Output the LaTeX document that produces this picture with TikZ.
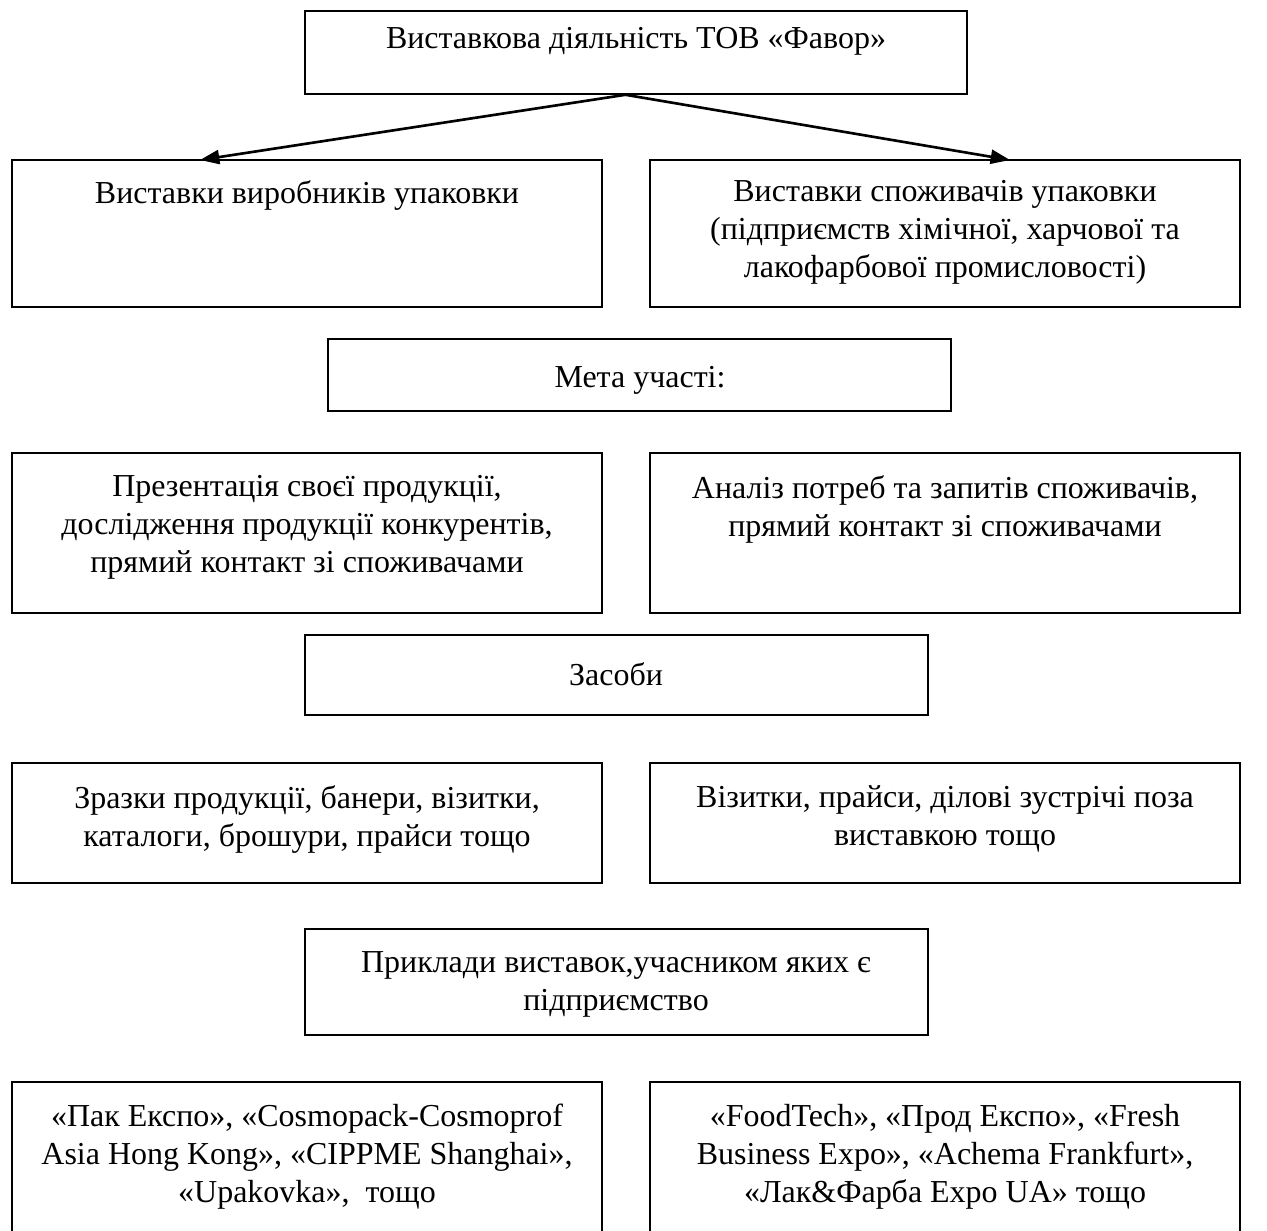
\documentclass[tikz,border=0pt]{standalone}
\usepackage{fontspec}
\setmainfont{Liberation Serif}
\usetikzlibrary{arrows.meta,fit}

\begin{document}
\begin{tikzpicture}[x=0.02cm, y=-0.02cm,
    box/.style={draw, line width=0.9pt, inner sep=0pt},
    txt/.style={anchor=north, align=center, inner sep=0pt, font=\fontsize{18.2}{21.5}\selectfont},
    arr/.style={line width=1.5pt, -{Triangle[length=11pt, width=8pt]}}]
  \useasboundingbox (0,0) rectangle (1267,1230);
  \clip (0,0) rectangle (1267,1230);
  % rows of boxes
  \node[box, fit={(305,11) (967,94)}] (top) {};
  \node[box, fit={(12,160) (602,307)}] (prodL) {};
  \node[box, fit={(650,160) (1240,307)}] (prodR) {};
  \node[box, fit={(328,339) (951,411)}] (goal) {};
  \node[box, fit={(12,453) (602,613)}] (goalL) {};
  \node[box, fit={(650,453) (1240,613)}] (goalR) {};
  \node[box, fit={(305,635) (928,715)}] (means) {};
  \node[box, fit={(12,763) (602,883)}] (meansL) {};
  \node[box, fit={(650,763) (1240,883)}] (meansR) {};
  \node[box, fit={(305,929) (928,1035)}] (expo) {};
  \node[box, fit={(12,1082) (602,1262)}] (expoL) {};
  \node[box, fit={(650,1082) (1240,1262)}] (expoR) {};
  % texts
  \node[txt] (topT) at (636,27) {Виставкова діяльність ТОВ «Фавор»};
  \node[txt] (prodLT) at (307,180) {Виставки виробників упаковки};
  \node[txt] (prodRT) at (945,180) {Виставки споживачів упаковки\\(підприємств хімічної, харчової та\\лакофарбової промисловості)};
  \node[txt] (goalT) at (640,366) {Мета участі:};
  \node[txt] (goalLT) at (307,475) {Презентація своєї продукції,\\дослідження продукції конкурентів,\\прямий контакт зі споживачами};
  \node[txt] (goalRT) at (945,475) {Аналіз потреб та запитів споживачів,\\прямий контакт зі споживачами};
  \node[txt] (meansT) at (616,662) {Засоби};
  \node[txt] (meansLT) at (307,785) {Зразки продукції, банери, візитки,\\каталоги, брошури, прайси тощо};
  \node[txt] (meansRT) at (945,785) {Візитки, прайси, ділові зустрічі поза\\виставкою тощо};
  \node[txt] (expoT) at (616,951) {Приклади виставок,учасником яких є\\підприємство};
  \node[txt] (expoLT) at (307,1104) {«Пак Експо», «Cosmopack-Cosmoprof\\Asia Hong Kong», «CIPPME Shanghai»,\\«Upakovka»,\ \ тощо};
  \node[txt] (expoRT) at (945,1104) {«FoodTech», «Прод Експо», «Fresh\\Business Expo», «Achema Frankfurt»,\\«Лак\&Фарба Expo UA» тощо};
  % arrows
  \coordinate (inL) at (200,160);
  \coordinate (inR) at (1010,160);
  \draw[arr] ([xshift=-6pt]top.south) -- (inL);
  \draw[arr] ([xshift=-6pt]top.south) -- (inR);
\end{tikzpicture}
\end{document}
